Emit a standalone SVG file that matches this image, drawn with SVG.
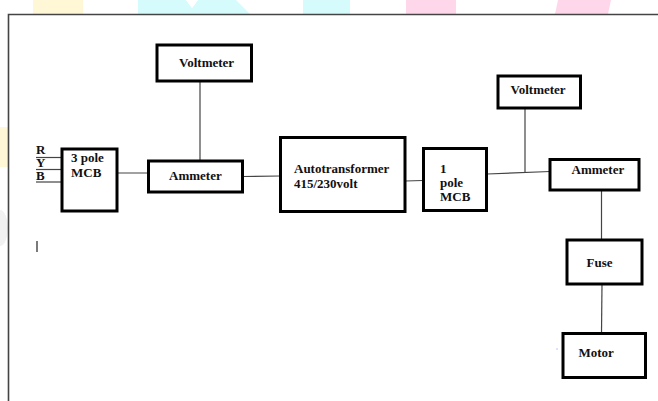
<svg xmlns="http://www.w3.org/2000/svg" width="658" height="401" viewBox="0 0 658 401">
<style>
.box{fill:#fff;stroke:#000;stroke-width:3}
.lbl{font-family:"Liberation Serif","Times New Roman",serif;font-weight:bold;font-size:13px;fill:#111}
.wire{stroke:#444;stroke-width:1.2;fill:none}
.frame{stroke:#444;stroke-width:1.6;fill:none}
</style>
<rect width="658" height="401" fill="#fff"/>
<g id="watermark">
<rect x="33" y="0" width="50" height="14" fill="#fff7d6"/>
<polygon points="138,0 186,0 192,8 198,0 236,0 250,14 138,14" fill="#d6fbfd"/>
<polygon points="186,0 198,0 192,8" fill="#fff"/>
<rect x="303" y="0" width="47" height="14" fill="#d6fbfd"/>
<rect x="406" y="0" width="50" height="14" fill="#ffd7ea"/>
<polygon points="558,0 611,0 608,14 555,14" fill="#ffd7ea"/>
<rect x="0" y="127" width="8" height="40" fill="#fff7d6"/>
<ellipse cx="0" cy="228" rx="8" ry="18" fill="#f1f1f1"/>
</g>
<g id="frame">
<polyline class="frame" points="8.5,401 8.5,14.5 658,14.5"/>
</g>
<g id="connectors">
<line class="wire" x1="36" y1="157.5" x2="62" y2="157.5"/>
<line class="wire" x1="36" y1="169.5" x2="64" y2="169.5"/>
<line class="wire" x1="36" y1="182" x2="62" y2="182"/>
<line class="wire" x1="113" y1="173" x2="149" y2="173"/>
<line class="wire" x1="200" y1="81" x2="200" y2="161"/>
<line class="wire" x1="243" y1="176.5" x2="280" y2="176"/>
<line class="wire" x1="405" y1="181" x2="423" y2="180.5"/>
<line class="wire" x1="487" y1="174" x2="550" y2="171.5"/>
<line class="wire" x1="525" y1="108" x2="525" y2="172.5"/>
<line class="wire" x1="601.5" y1="190" x2="601.5" y2="240"/>
<line class="wire" x1="602" y1="284" x2="601.5" y2="333"/>
</g>
<g id="inputs">
<text class="lbl" x="36" y="154" font-size="9">R</text>
<text class="lbl" x="36" y="167" font-size="9">Y</text>
<text class="lbl" x="36" y="180" font-size="9">B</text>
</g>
<g id="mcb3">
<rect class="box" x="62" y="149" width="55" height="62"/>
<text class="lbl" x="71" y="162">3 pole</text>
<text class="lbl" x="71" y="176.5">MCB</text>
</g>
<g id="voltmeter1">
<rect class="box" x="157" y="45" width="94.5" height="36"/>
<text class="lbl" x="179" y="67" font-size="13.5">Voltmeter</text>
</g>
<g id="ammeter1">
<rect class="box" x="148.5" y="161" width="94" height="31"/>
<text class="lbl" x="169" y="180">Ammeter</text>
</g>
<g id="autotransformer">
<rect class="box" x="280.5" y="137.5" width="124.5" height="74"/>
<text class="lbl" x="294" y="173">Autotransformer</text>
<text class="lbl" x="294" y="187.5">415/230volt</text>
</g>
<g id="mcb1">
<rect class="box" x="423.5" y="148.5" width="63" height="62"/>
<text class="lbl" x="440" y="173" font-size="12.5">1</text>
<text class="lbl" x="440" y="187" font-size="12.5">pole</text>
<text class="lbl" x="440" y="201" font-size="12.5">MCB</text>
</g>
<g id="voltmeter2">
<rect class="box" x="498" y="76" width="82.5" height="32"/>
<text class="lbl" x="510.5" y="93.5">Voltmeter</text>
</g>
<g id="ammeter2">
<rect class="box" x="550" y="159.5" width="89" height="30.5"/>
<text class="lbl" x="571.5" y="173.5">Ammeter</text>
</g>
<g id="fuse">
<rect class="box" x="567" y="240" width="75" height="44"/>
<text class="lbl" x="586.5" y="267">Fuse</text>
</g>
<g id="motor">
<rect class="box" x="563" y="333.5" width="82.5" height="44"/>
<text class="lbl" x="578.5" y="357">Motor</text>
</g>
<g id="marks">
<line x1="37" y1="241" x2="37" y2="252" stroke="#222" stroke-width="1.2"/>
<rect x="556.5" y="348.5" width="1" height="1" fill="#8080ff"/>
</g>
</svg>
